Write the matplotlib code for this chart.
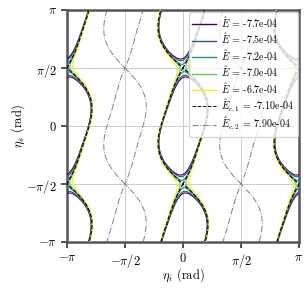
import numpy as np
import matplotlib
matplotlib.use("Agg")
import matplotlib.pyplot as plt
from matplotlib.lines import Line2D

plt.rcParams['font.family'] = 'serif'
plt.rcParams['font.serif'] = ['cmr10', 'DejaVu Serif']
plt.rcParams['mathtext.fontset'] = 'cm'
plt.rcParams['axes.unicode_minus'] = False

# contour levels (energy) and critical energies
levels = [-7.7e-4, -7.5e-4, -7.2e-4, -7.0e-4, -6.7e-4]
level_labels = ["-7.7e-04", "-7.5e-04", "-7.2e-04", "-7.0e-04", "-6.7e-04"]
E_c1 = -7.10e-4
E_c2 = 7.90e-4
crit_labels = ["-7.10e-04", "7.90e-04"]

# model field coefficients (units of 1e-4): offset, cos2ηi, cos2ηs, cos2ηi·cos2ηs, shear
coef_e0 = -0.395
coef_a = -11.91
coef_b = -0.795
coef_d = -4.41
shear_k = 0.14

tick_vals = [-np.pi, -np.pi/2, 0, np.pi/2, np.pi]
tick_labels = [r"$-\pi$", r"$-\pi/2$", r"$0$", r"$\pi/2$", r"$\pi$"]

n = 801
eta_i = np.linspace(-np.pi, np.pi, n)
eta_s = np.linspace(-np.pi, np.pi, n)
X, Y = np.meshgrid(eta_i, eta_s)
U = X - shear_k * np.sin(2 * Y)
E = 1e-4 * (coef_e0 + coef_a * np.cos(2 * U) + coef_b * np.cos(2 * Y)
            + coef_d * np.cos(2 * U) * np.cos(2 * Y))

fig = plt.figure(figsize=(3.07, 2.89), dpi=100)
ax = fig.add_axes([67/307, 1 - 242/289, 232/307, 232/289])

cmap = plt.get_cmap('viridis')
cols = [cmap(i / (len(levels) - 1)) for i in range(len(levels))]
ax.contour(X, Y, E, levels=levels, colors=cols, linewidths=0.8, zorder=3)
ax.contour(X, Y, E, levels=[E_c1], colors='black', linewidths=0.8,
           linestyles='--', zorder=4)
ax.contour(X, Y, E, levels=[E_c2], colors='#808080', linewidths=0.7,
           linestyles='-.', zorder=2)

ax.set_xlim(-np.pi, np.pi)
ax.set_ylim(-np.pi, np.pi)
ax.set_xticks(tick_vals)
ax.set_xticklabels(tick_labels)
ax.set_yticks(tick_vals)
ax.set_yticklabels(tick_labels)
ax.tick_params(labelsize=9, length=4, width=1.2, colors='#333333', labelcolor='black')
ax.grid(True, color='#c4c4c4', linewidth=0.6, zorder=0)
ax.set_axisbelow(True)
for sp in ax.spines.values():
    sp.set_linewidth(1.8)
    sp.set_color('#555555')
ax.set_xlabel(r"$\eta_i$ (rad)", fontsize=9, labelpad=-3)
ax.set_ylabel(r"$\eta_s$ (rad)", fontsize=9, labelpad=-1)

handles = [Line2D([], [], color=c, lw=1.0) for c in cols]
labels = [r"$\hat{E}$ = " + s for s in level_labels]
handles.append(Line2D([], [], color='black', lw=0.7, ls='--'))
labels.append(r"$\hat{E}_{c,1}$ = " + crit_labels[0])
handles.append(Line2D([], [], color='#808080', lw=0.7, ls='-.'))
labels.append(r"$\hat{E}_{c,2}$ = " + crit_labels[1])
leg = ax.legend(handles, labels, loc='upper right', fontsize=7.2, handlelength=2.4,
                handletextpad=0.5, labelspacing=0.15, borderpad=0.35,
                borderaxespad=0.15, framealpha=0.8)
leg.set_zorder(10)

fig.savefig("out.png", dpi=100)
